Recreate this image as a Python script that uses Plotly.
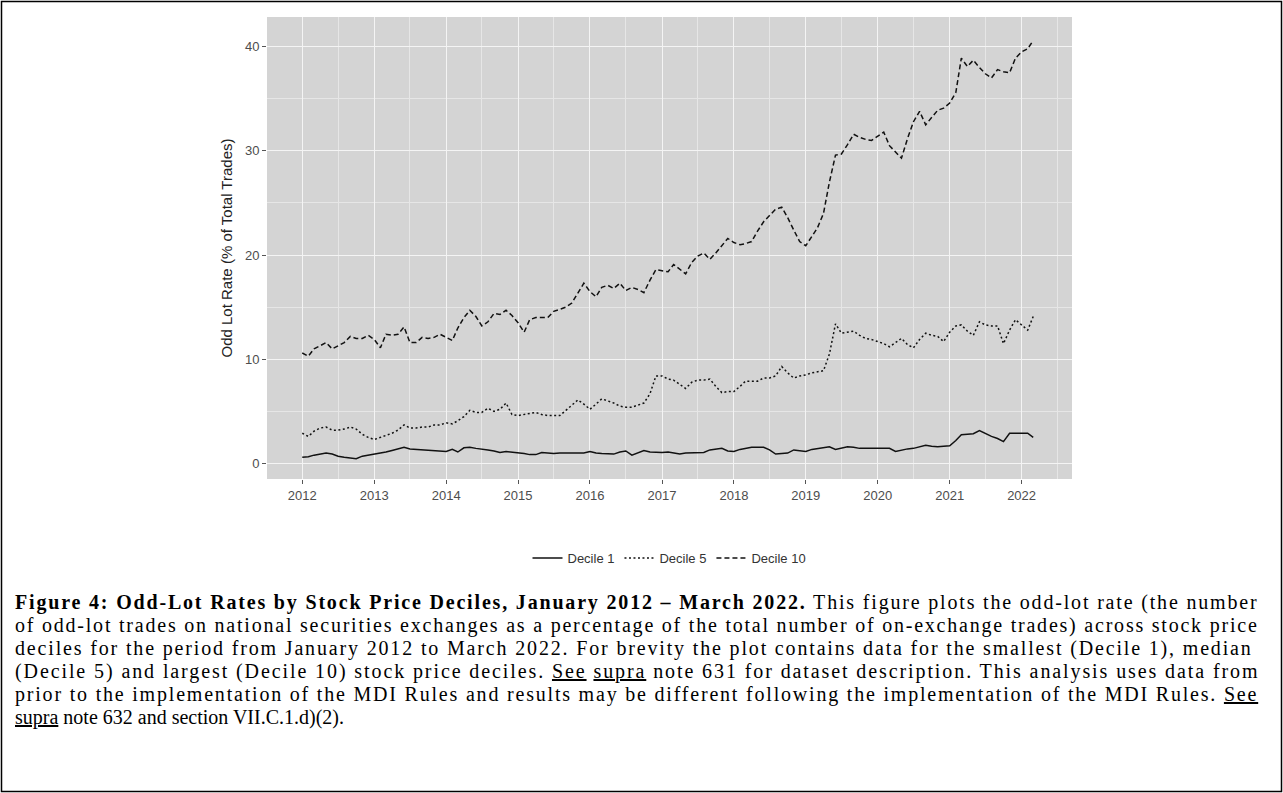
import re
import pandas as pd
import plotly.graph_objs as go

# monthly observations, Jan 2012 - Mar 2022
months = pd.date_range("2012-01-01", periods=123, freq="MS")

decile_1 = [
    0.6, 0.65, 0.8, 0.9, 1.0, 0.9, 0.7, 0.6, 0.5, 0.45, 0.7, 0.8,
    0.85, 1.0, 1.1, 1.25, 1.4, 1.55, 1.4, 1.35, 1.35, 1.3, 1.25, 1.2,
    1.15, 1.35, 1.1, 1.5, 1.55, 1.45, 1.4, 1.3, 1.2, 1.05, 1.15, 1.1,
    1.0, 0.95, 0.85, 0.85, 1.05, 1.0, 0.95, 1.0, 1.0, 1.0, 1.0, 1.0,
    1.15, 1.0, 0.95, 0.95, 0.9, 1.1, 1.2, 0.8, 1.0, 1.25, 1.1, 1.05,
    1.05, 1.1, 1.0, 0.9, 1.0, 1.0, 1.05, 1.05, 1.3, 1.4, 1.45, 1.2,
    1.15, 1.35, 1.45, 1.55, 1.55, 1.55, 1.3, 0.9, 0.95, 1.0, 1.3, 1.2,
    1.15, 1.35, 1.45, 1.55, 1.6, 1.35, 1.45, 1.6, 1.55, 1.45, 1.45, 1.45,
    1.45, 1.45, 1.45, 1.15, 1.3, 1.4, 1.45, 1.6, 1.75, 1.65, 1.6, 1.65,
    1.7, 2.2, 2.75, 2.8, 2.85, 3.15, 2.85, 2.6, 2.4, 2.1, 2.9, 2.9,
    2.9, 2.9, 2.5]

decile_5 = [
    2.9, 2.6, 3.1, 3.4, 3.5, 3.2, 3.2, 3.3, 3.5, 3.3, 2.8, 2.5,
    2.3, 2.5, 2.7, 2.9, 3.2, 3.7, 3.4, 3.4, 3.5, 3.5, 3.7, 3.7,
    3.9, 3.8, 4.1, 4.5, 5.1, 4.9, 4.9, 5.3, 5.0, 5.2, 5.8, 4.7,
    4.6, 4.7, 4.8, 4.9, 4.7, 4.6, 4.6, 4.6, 5.1, 5.6, 6.1, 5.7,
    5.2, 5.7, 6.2, 6.0, 5.8, 5.5, 5.4, 5.4, 5.6, 5.8, 6.7, 8.4,
    8.4, 8.1, 8.0, 7.6, 7.2, 7.8, 8.0, 8.0, 8.1, 7.4, 6.8, 6.9,
    6.9, 7.4, 7.9, 7.9, 7.9, 8.2, 8.2, 8.4, 9.3, 8.7, 8.2, 8.4,
    8.5, 8.7, 8.8, 8.9, 10.5, 13.4, 12.5, 12.6, 12.7, 12.3, 12.0, 11.9,
    11.7, 11.5, 11.2, 11.6, 12.0, 11.4, 11.1, 11.9, 12.5, 12.3, 12.2, 11.7,
    12.6, 13.2, 13.3, 12.7, 12.3, 13.6, 13.3, 13.2, 13.2, 11.5, 12.8, 13.8,
    13.3, 12.8, 14.1]

decile_10 = [
    10.6, 10.3, 11.0, 11.3, 11.6, 11.0, 11.3, 11.6, 12.2, 12.0, 12.0, 12.3,
    11.9, 11.1, 12.4, 12.3, 12.4, 13.1, 11.6, 11.6, 12.1, 12.0, 12.1, 12.4,
    12.1, 11.8, 13.0, 14.0, 14.7, 14.1, 13.2, 13.6, 14.4, 14.3, 14.7, 14.2,
    13.5, 12.6, 13.8, 14.0, 14.0, 14.0, 14.6, 14.8, 15.0, 15.4, 16.4, 17.3,
    16.5, 16.0, 16.9, 17.1, 16.8, 17.3, 16.6, 16.9, 16.7, 16.4, 17.6, 18.6,
    18.5, 18.4, 19.1, 18.6, 18.2, 19.3, 19.9, 20.2, 19.6, 20.2, 20.9, 21.6,
    21.2, 21.0, 21.1, 21.3, 22.3, 23.2, 23.8, 24.4, 24.6, 23.6, 22.4, 21.3,
    20.9, 21.8, 22.6, 24.0, 27.0, 29.6, 29.7, 30.6, 31.6, 31.3, 31.1, 31.0,
    31.4, 31.8, 30.5, 29.9, 29.3, 31.2, 32.8, 33.8, 32.5, 33.2, 33.9, 34.1,
    34.6, 35.6, 38.9, 38.1, 38.7, 38.0, 37.4, 37.0, 37.8, 37.6, 37.5, 38.9,
    39.5, 39.8, 40.6]

series_names = ['Decile 1', 'Decile 5', 'Decile 10']
series_dash = ['solid', '2px,2.5px', '5px,3px']

U = "<span style='text-decoration:underline'>%s</span>"
caption_lines = [
    "<b>Figure 4: Odd-Lot Rates by Stock Price Deciles, January 2012 \u2013 March 2022.</b>"
    " This figure plots the odd-lot rate (the number",
    "of odd-lot trades on national securities exchanges as a percentage of the total number"
    " of on-exchange trades) across stock price",
    "deciles for the period from January 2012 to March 2022. For brevity the plot contains"
    " data for the smallest (Decile 1), median",
    "(Decile 5) and largest (Decile 10) stock price deciles. " + U % "See" + " " + U % "supra" +
    " note 631 for dataset description. This analysis uses data from",
    "prior to the implementation of the MDI Rules and results may be different following the"
    " implementation of the MDI Rules. " + U % "See",
    U % "supra" + " note 632 and section VII.C.1.d)(2).",
]
# approx. natural widths (px) of each caption line at 18px; the last line is not justified
caption_natural = [921, 914, 911, 901, 918, None]
CAP_SIZE = 20

# plot area in pixels
L, R, T, B = 267, 1072, 17, 479
CAP_LEFT, CAP_RIGHT = 13, 1255


def px_x(px):
    return (px - L) / (R - L)


def px_y(py):
    return (B - py) / (B - T)


tracerList = []
for name, vals, dash in zip(series_names, [decile_1, decile_5, decile_10], series_dash):
    tracerList.append(
        go.Scatter(x=months,
                   y=vals,
                   name=name,
                   mode='lines',
                   line=dict(color='#111111', width=1.5, dash=dash)))

fig = go.Figure(data=tracerList)

fig.update_layout(
    width=1283, height=793,
    margin=dict(l=L, r=1283 - R, t=T, b=793 - B),
    paper_bgcolor='white',
    plot_bgcolor='#d4d4d4',
    font=dict(family='Liberation Sans, Arial, sans-serif', color='#4d4d4d'),
    showlegend=True,
    legend=dict(orientation='h', x=0.5, xanchor='center', y=px_y(558), yanchor='middle',
                font=dict(size=13, color='#333333'), bgcolor='rgba(0,0,0,0)',
                itemwidth=30),
    xaxis=dict(range=['2011-07-06', '2022-09-14'],
               tick0='2012-01-01', dtick='M12', tickformat='%Y',
               ticks='outside', ticklen=4, tickcolor='#555555',
               tickfont=dict(size=13, color='#4d4d4d'),
               showgrid=True, gridcolor='#f4f4f4', gridwidth=1.1,
               minor=dict(dtick='M6', tick0='2012-01-01', showgrid=True,
                          gridcolor='#e6e6e6', gridwidth=0.6),
               zeroline=False, showline=False),
    yaxis=dict(range=[-1.49, 42.85],
               tickvals=[0, 10, 20, 30, 40],
               ticks='outside', ticklen=4, tickcolor='#555555',
               tickfont=dict(size=13, color='#4d4d4d'),
               showgrid=True, gridcolor='#f4f4f4', gridwidth=1.1,
               minor=dict(tickvals=[5, 15, 25, 35], showgrid=True,
                          gridcolor='#e6e6e6', gridwidth=0.6),
               zeroline=False, showline=False,
               title=dict(text='Odd Lot Rate (% of Total Trades)',
                          font=dict(size=15, color='#222222'), standoff=8)),
)

# caption under the chart, justified lines spread out to the right edge
for i, (line, natural) in enumerate(zip(caption_lines, caption_natural)):
    if natural is not None:
        plain = re.sub(r'<[^>]+>', '', line)
        spacing = (CAP_RIGHT - CAP_LEFT - natural * CAP_SIZE / 18) / (len(plain) - 1)
        line = "<span style='letter-spacing:%.2fpx'>%s</span>" % (spacing, line)
    fig.add_annotation(text=line,
                       xref='paper', yref='paper',
                       x=px_x(CAP_LEFT), y=px_y(602 + i * 23.2),
                       xanchor='left', yanchor='middle', align='left',
                       showarrow=False,
                       font=dict(family='Liberation Serif, Times New Roman, serif',
                                 size=CAP_SIZE, color='black'))

# frame around the whole figure
fig.add_shape(type='rect', xref='paper', yref='paper',
              x0=px_x(1.5), x1=px_x(1281.5), y0=px_y(791.5), y1=px_y(1.5),
              line=dict(color='black', width=1.5), layer='above')

# page body has a default 8px margin; drop it so the figure sits at the window corner
fig.write_html("out.html", config={'displayModeBar': False},
               post_script="document.body.style.margin='0';")
